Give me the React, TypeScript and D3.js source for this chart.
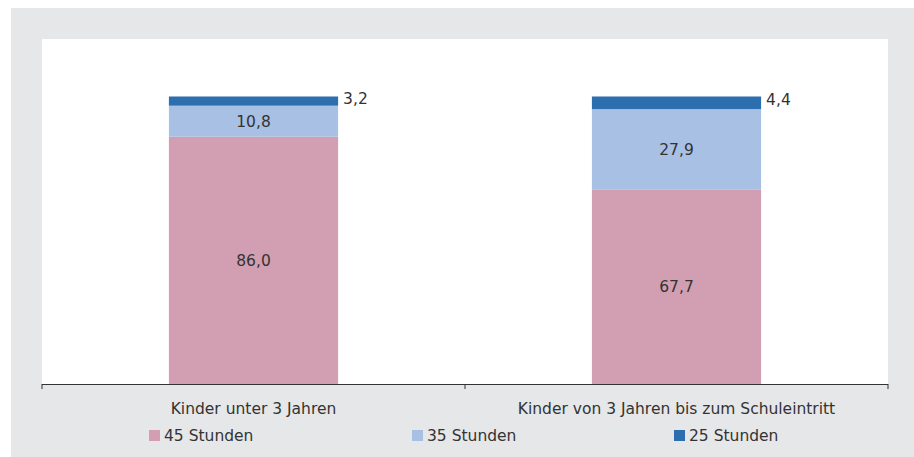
import React from "react";
import * as d3 from "d3";

const categories = ["Kinder unter 3 Jahren", "Kinder von 3 Jahren bis zum Schuleintritt"];
const seriesNames = ["45 Stunden", "35 Stunden", "25 Stunden"];
const s45 = [86.0, 67.7];
const s35 = [10.8, 27.9];
const s25 = [3.2, 4.4];
const colors = ["#d19fb1", "#a8c0e4", "#2d6eae"];

const W = 914, H = 457;
const plot = { left: 42, right: 888, top: 39, bottom: 384 };
const font = "'DejaVu Sans', sans-serif";
const fs = 15.5;
const fmt = (v: number) => v.toFixed(1).replace(".", ",");

export default function App() {
  const x = d3.scaleBand<string>().domain(categories).range([plot.left, plot.right]).paddingInner(0.6).paddingOuter(0.3);
  const y = d3.scaleLinear().domain([0, 120]).range([plot.bottom, plot.top]);
  const rows = categories.map((c, i) => ({ cat: c, s0: s45[i], s1: s35[i], s2: s25[i] }));
  const stack = d3.stack<any>().keys(["s0", "s1", "s2"])(rows);
  const step = (plot.right - plot.left) / categories.length;
  const ticks = d3.range(categories.length + 1).map((i) => plot.left + i * step);
  const legendX = [149, 412, 674];
  return (
    <svg width={W} height={H} style={{ position: "absolute", left: 0, top: 0 }}>
      <rect x={11} y={8} width={W - 11} height={H - 8} fill="#e6e7e9" />
      <rect x={plot.left} y={plot.top} width={plot.right - plot.left} height={plot.bottom - plot.top} fill="#fff" />
      {stack.map((layer, li) =>
        layer.map((d, i) => {
          const bx = x(categories[i])!;
          const y0 = y(d[0]), y1 = y(d[1]);
          const v = d[1] - d[0];
          const bw = x.bandwidth();
          return (
            <g key={`${li}-${i}`}>
              <rect x={bx} y={y1} width={bw} height={y0 - y1} fill={colors[li]} />
              {li < 2 ? (
                <text x={bx + bw / 2} y={(y0 + y1) / 2} dy="0.35em" textAnchor="middle" fontFamily={font} fontSize={fs} fill="#333">
                  {fmt(v)}
                </text>
              ) : (
                <text x={bx + bw + 5} y={(y0 + y1) / 2 - 3} dy="0.35em" textAnchor="start" fontFamily={font} fontSize={fs} fill="#333">
                  {fmt(v)}
                </text>
              )}
            </g>
          );
        })
      )}
      <line x1={plot.left} x2={plot.right} y1={plot.bottom + 0.5} y2={plot.bottom + 0.5} stroke="#333" strokeWidth={1.2} />
      {ticks.map((t, i) => (
        <line key={i} x1={t} x2={t} y1={plot.bottom} y2={plot.bottom + 5} stroke="#333" strokeWidth={1} />
      ))}
      {categories.map((c) => (
        <text key={c} x={x(c)! + x.bandwidth() / 2} y={409} dy="0.35em" textAnchor="middle" fontFamily={font} fontSize={fs} fill="#333">
          {c}
        </text>
      ))}
      {seriesNames.map((s, i) => (
        <g key={s}>
          <rect x={legendX[i]} y={430} width={11} height={11} fill={colors[i]} />
          <text x={legendX[i] + 15} y={436} dy="0.35em" fontFamily={font} fontSize={fs} fill="#333">
            {s}
          </text>
        </g>
      ))}
    </svg>
  );
}
